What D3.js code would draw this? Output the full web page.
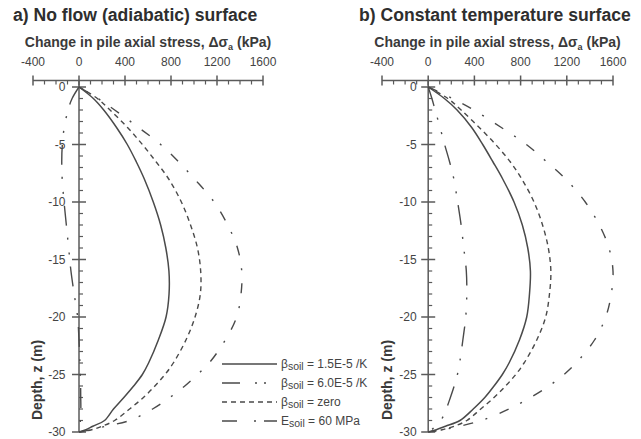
<!DOCTYPE html>
<html>
<head>
<meta charset="UTF-8">
<script src="https://d3js.org/d3.v7.min.js"></script>
<style>
  body { margin: 0; background: #fff; }
  svg { display: block; font-family: "Liberation Sans", Arial, sans-serif; }
  .title { font-weight: bold; font-size: 17.6px; fill: #2e2e2e; }
  .axtitle { font-weight: bold; font-size: 14px; fill: #3a3a3a; }
  .tick { font-size: 12px; fill: #444; }
  .leg { font-size: 12px; fill: #444; }
</style>
</head>
<body>
<svg width="641" height="439"></svg>
<script>
// depth below surface (m)
const depths = [0, 1, 2, 3.5, 5, 6.5, 8, 10, 12, 14, 16, 18, 20, 22, 24, 25, 26, 27, 28, 29, 29.5, 29.8, 30];

// a) no flow (adiabatic) surface, change in axial stress (kPa)
const adiabaticBeta15 = [0, 125, 215, 325, 420, 498, 568, 646, 710, 755, 782, 783, 757, 690, 605, 551, 475, 390, 300, 222, 120, 60, 0];
const adiabaticBeta60 = [0, -60, -95, -128, -145, -150, -146, -130, -110, -90, -70, -42, -12, 0, 8, 11, 14, 15, 16, 12, 8, 4, 0];
const adiabaticZero   = [0, 160, 270, 420, 551, 670, 780, 890, 970, 1030, 1058, 1055, 1009, 930, 820, 748, 660, 560, 440, 310, 200, 110, 0];
const adiabaticE60    = [0, 165, 310, 515, 710, 865, 1005, 1175, 1293, 1378, 1415, 1409, 1371, 1272, 1132, 1030, 920, 790, 640, 440, 230, 110, 0];

// b) constant temperature surface
const constBeta15 = [0, 140, 250, 375, 472, 560, 645, 743, 815, 862, 885, 877, 853, 790, 700, 642, 570, 490, 390, 275, 150, 70, 0];
const constBeta60 = [0, 32, 60, 102, 142, 185, 222, 255, 285, 308, 330, 334, 325, 300, 272, 253, 225, 192, 156, 110, 65, 30, 0];
const constZero   = [0, 170, 285, 440, 584, 710, 810, 916, 990, 1040, 1062, 1050, 1017, 940, 830, 758, 670, 570, 455, 335, 225, 120, 0];
const constE60    = [0, 210, 395, 630, 850, 1025, 1190, 1360, 1482, 1565, 1600, 1585, 1537, 1440, 1280, 1176, 1045, 885, 700, 460, 270, 130, 0];

const stressTicks = [-400, 0, 400, 800, 1200, 1600];
const depthTicks = [0, -5, -10, -15, -20, -25, -30];

const legendSymbols = ["β", "β", "β", "E"];
const legendSubs = ["soil", "soil", "soil", "soil"];
const legendRest = [" = 1.5E-5 /K", " = 6.0E-5 /K", " = zero", " = 60 MPa"];

const dashes = [null, "20,12,2,13,2,12", "5,4", "10,13,2,13"];
const legendDashes = [null, "18,15,2,7,2,20", "5,4", "15,17,2,8,15"];

const svg = d3.select("svg");
const ink = "#4a4a4a";
const axisInk = "#5a5a5a";

const panels = [
  { title: "a) No flow (adiabatic) surface", titleX: 13, x0: 33, x1: 263, labelOff: 13.5, depthX: 38,
    series: [adiabaticBeta15, adiabaticBeta60, adiabaticZero, adiabaticE60] },
  { title: "b) Constant temperature surface", titleX: 359, x0: 382, x1: 613, labelOff: 11.5, depthX: 388,
    series: [constBeta15, constBeta60, constZero, constE60] }
];

const axisY = 80.5;
const y = d3.scaleLinear().domain([0, -30]).range([87, 432]);

panels.forEach(p => {
  const x = d3.scaleLinear().domain([-400, 1600]).range([p.x0, p.x1]);
  const g = svg.append("g");
  const zx = x(0);

  g.append("text").attr("class", "title").attr("x", p.titleX).attr("y", 21).text(p.title);

  const at = g.append("text").attr("class", "axtitle")
    .attr("x", (p.x0 + p.x1) / 2).attr("y", 47).attr("text-anchor", "middle");
  at.append("tspan").text("Change in pile axial stress, Δσ");
  at.append("tspan").attr("font-size", "9px").attr("dy", 3).text("a");
  at.append("tspan").attr("dy", -3).text(" (kPa)");

  // x axis
  g.append("line").attr("x1", p.x0).attr("x2", p.x1).attr("y1", axisY).attr("y2", axisY)
    .attr("stroke", axisInk).attr("stroke-width", 1.5);
  g.selectAll(".xmin").data(d3.range(-400, 1601, 100).filter(v => v % 400 !== 0)).join("line")
    .attr("x1", d => x(d)).attr("x2", d => x(d)).attr("y1", axisY).attr("y2", axisY + 4)
    .attr("stroke", axisInk).attr("stroke-width", 1.2);
  g.selectAll(".xmaj").data(stressTicks).join("line")
    .attr("x1", d => x(d)).attr("x2", d => x(d)).attr("y1", axisY - 5).attr("y2", axisY + 5)
    .attr("stroke", axisInk).attr("stroke-width", 1.5);
  g.selectAll(".xlab").data(stressTicks).join("text").attr("class", "tick")
    .attr("x", d => x(d)).attr("y", 66).attr("text-anchor", "middle").text(d => d);

  // y axis
  g.append("line").attr("x1", zx).attr("x2", zx).attr("y1", axisY).attr("y2", y(-30))
    .attr("stroke", axisInk).attr("stroke-width", 1.5);
  g.selectAll(".ymin").data(d3.range(0, -31, -1).filter(v => v % 5 !== 0)).join("line")
    .attr("x1", zx).attr("x2", zx + 4).attr("y1", d => y(d)).attr("y2", d => y(d))
    .attr("stroke", axisInk).attr("stroke-width", 1.2);
  g.selectAll(".ymaj").data(depthTicks).join("line")
    .attr("x1", zx - 7).attr("x2", zx + 7).attr("y1", d => y(d)).attr("y2", d => y(d))
    .attr("stroke", axisInk).attr("stroke-width", 1.5);
  g.selectAll(".ylab").data(depthTicks).join("text").attr("class", "tick")
    .attr("x", zx - p.labelOff).attr("y", d => y(d)).attr("dy", "0.36em")
    .attr("text-anchor", "end").text(d => d);

  g.append("text").attr("class", "axtitle")
    .attr("transform", `translate(${p.depthX + 4},380) rotate(-90)`)
    .attr("text-anchor", "middle").text("Depth, z (m)");

  const line = d3.line()
    .x(d => x(d[1])).y(d => y(-d[0]))
    .curve(d3.curveCatmullRom.alpha(0.5));

  p.series.forEach((vals, i) => {
    g.append("path")
      .datum(depths.map((z, k) => [z, vals[k]]))
      .attr("d", line)
      .attr("fill", "none")
      .attr("stroke", ink)
      .attr("stroke-width", i === 0 ? 1.5 : 1.4)
      .attr("stroke-dasharray", dashes[i]);
  });
});

// legend
const lg = svg.append("g");
const rowY = [364, 383, 402, 421];
legendRest.forEach((t, i) => {
  lg.append("line").attr("x1", 222).attr("x2", 277).attr("y1", rowY[i]).attr("y2", rowY[i])
    .attr("stroke", ink).attr("stroke-width", 1.5).attr("stroke-dasharray", legendDashes[i]);
  const tx = lg.append("text").attr("class", "leg").attr("x", 281).attr("y", rowY[i] + 4);
  tx.append("tspan").text(legendSymbols[i]);
  tx.append("tspan").attr("font-size", "10.5px").attr("dy", 2).text(legendSubs[i]);
  tx.append("tspan").attr("dy", -2).text(t);
});
</script>
</body>
</html>
